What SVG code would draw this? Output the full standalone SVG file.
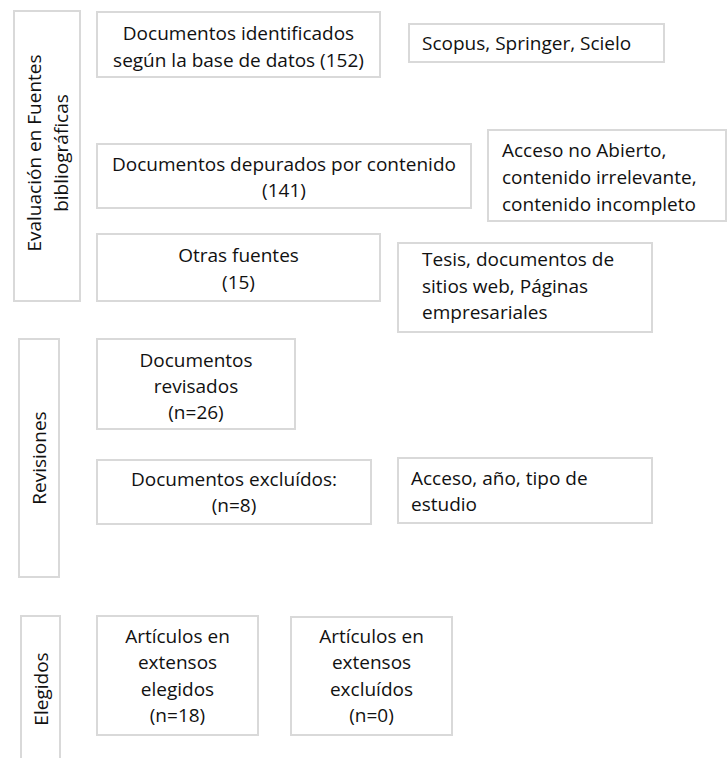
<svg xmlns="http://www.w3.org/2000/svg" width="728" height="758" viewBox="0 0 728 758">
<style>
  .box { fill: #ffffff; stroke: #d9d9d9; stroke-width: 2; }
  .t { font-family: "Open Sans", "Noto Sans", "Liberation Sans", sans-serif; font-size: 19px; fill: #111111; }
  .c { text-anchor: middle; }
</style>
<rect width="728" height="758" fill="#ffffff"/>
<g id="connectors"/>

<g id="panel-evaluacion">
  <rect class="box" x="14" y="11" width="66" height="290"/>
  <text class="t c" transform="translate(41,153) rotate(-90)">Evaluación en Fuentes</text>
  <text class="t c" transform="translate(68,153) rotate(-90)">bibliográficas</text>
</g>
<g id="panel-revisiones">
  <rect class="box" x="19" y="339" width="40" height="238"/>
  <text class="t c" transform="translate(46,458) rotate(-90)">Revisiones</text>
</g>
<g id="panel-elegidos">
  <rect class="box" x="21" y="616" width="39" height="170"/>
  <text class="t c" transform="translate(48,689) rotate(-90)">Elegidos</text>
</g>

<g id="n-identificados">
  <rect class="box" x="97" y="12" width="283" height="65"/>
  <text class="t c" x="238.5" y="40">Documentos identificados</text>
  <text class="t c" x="238.5" y="67">según la base de datos (152)</text>
</g>
<g id="n-bases">
  <rect class="box" x="409" y="24" width="255" height="38"/>
  <text class="t" x="422" y="50">Scopus, Springer, Scielo</text>
</g>
<g id="n-depurados">
  <rect class="box" x="97" y="144" width="374" height="64"/>
  <text class="t c" x="284" y="171">Documentos depurados por contenido</text>
  <text class="t c" x="284" y="197">(141)</text>
</g>
<g id="n-acceso">
  <rect class="box" x="488" y="130" width="238" height="91"/>
  <text class="t" x="502" y="157">Acceso no Abierto,</text>
  <text class="t" x="502" y="184">contenido irrelevante,</text>
  <text class="t" x="502" y="211">contenido incompleto</text>
</g>
<g id="n-otras">
  <rect class="box" x="97" y="234" width="283" height="67"/>
  <text class="t c" x="238.5" y="262">Otras fuentes</text>
  <text class="t c" x="238.5" y="289">(15)</text>
</g>
<g id="n-tesis">
  <rect class="box" x="398" y="243" width="254" height="89"/>
  <text class="t" x="422" y="266">Tesis, documentos de</text>
  <text class="t" x="422" y="293">sitios web, Páginas</text>
  <text class="t" x="422" y="319">empresariales</text>
</g>
<g id="n-revisados">
  <rect class="box" x="97" y="339" width="198" height="90"/>
  <text class="t c" x="196" y="367">Documentos</text>
  <text class="t c" x="196" y="393">revisados</text>
  <text class="t c" x="196" y="419">(n=26)</text>
</g>
<g id="n-excluidos">
  <rect class="box" x="97" y="460" width="274" height="64"/>
  <text class="t c" x="234" y="486">Documentos excluídos:</text>
  <text class="t c" x="234" y="512">(n=8)</text>
</g>
<g id="n-criterios">
  <rect class="box" x="398" y="458" width="254" height="65"/>
  <text class="t" x="411" y="485">Acceso, año, tipo de</text>
  <text class="t" x="411" y="511">estudio</text>
</g>
<g id="n-elegidos">
  <rect class="box" x="97" y="616" width="161" height="119"/>
  <text class="t c" x="177.5" y="643">Artículos en</text>
  <text class="t c" x="177.5" y="669">extensos</text>
  <text class="t c" x="177.5" y="696">elegidos</text>
  <text class="t c" x="177.5" y="722">(n=18)</text>
</g>
<g id="n-excluidos-ext">
  <rect class="box" x="291" y="617" width="161" height="118"/>
  <text class="t c" x="371.5" y="643">Artículos en</text>
  <text class="t c" x="371.5" y="669">extensos</text>
  <text class="t c" x="371.5" y="696">excluídos</text>
  <text class="t c" x="371.5" y="722">(n=0)</text>
</g>
</svg>
